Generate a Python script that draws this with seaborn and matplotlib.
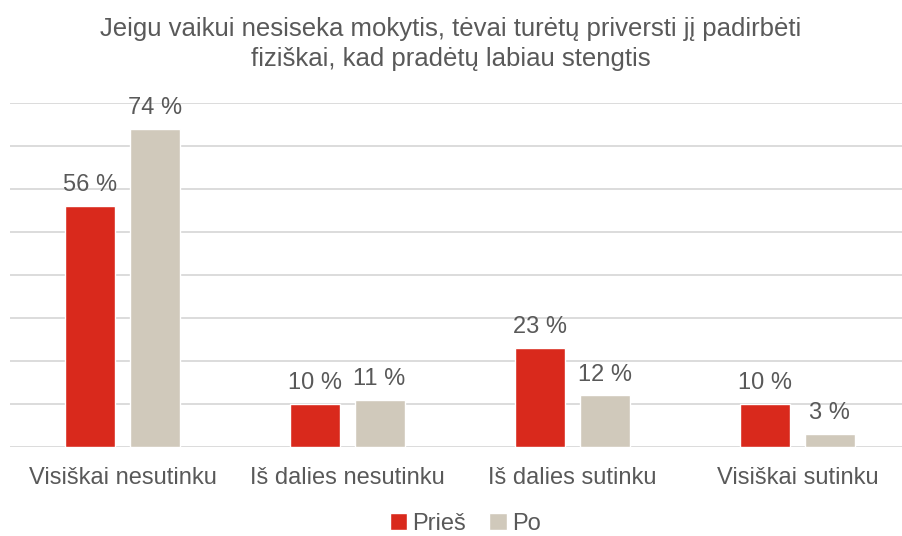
import pandas as pd
import seaborn as sns
import matplotlib.pyplot as plt

# data
categories = ["Visiškai nesutinku", "Iš dalies nesutinku", "Iš dalies sutinku", "Visiškai sutinku"]
pries = [56, 10, 23, 10]
po = [74, 11, 12, 3]
series_names = ["Prieš", "Po"]
title = "Jeigu vaikui nesiseka mokytis, tėvai turėtų priversti jį padirbėti\nfiziškai, kad pradėtų labiau stengtis"

df = pd.DataFrame({
    "Atsakymas": categories * 2,
    "Reikšmė": pries + po,
    "Laikas": [series_names[0]] * len(categories) + [series_names[1]] * len(categories),
})

sns.set_style("white")
plt.rcParams["font.family"] = ["Liberation Sans", "DejaVu Sans"]
text_color = "#595959"

fig = plt.figure(figsize=(9.02, 5.36), dpi=100)
ax = fig.add_axes([10 / 902, 89 / 536, 900 / 902, 344 / 536])

sns.barplot(data=df, x="Atsakymas", y="Reikšmė", hue="Laikas",
            palette=["#D9291C", "#D0C9BB"], width=0.57, gap=0.22,
            saturation=1, ax=ax, legend=True)

ax.set_ylim(0, 80)
ax.set_xlim(-0.5, 3.5)
ax.set_yticks(range(0, 81, 10))
ax.yaxis.grid(True, color="#D9D9D9", linewidth=1.3)
ax.set_axisbelow(True)
ax.tick_params(axis="y", left=False, labelleft=False)
ax.tick_params(axis="x", bottom=False, labelsize=17, colors=text_color, pad=11)
ax.set_xlabel("")
ax.set_ylabel("")
for s in ax.spines.values():
    s.set_visible(False)

for cont in ax.containers:
    ax.bar_label(cont, labels=[f"{v:.0f} %" for v in cont.datavalues],
                 padding=7, fontsize=17, color=text_color)

fig.text(0.5, 0.968, title, ha="center", va="top", fontsize=18.5,
         color=text_color, linespacing=1.3)

ax.legend(loc="center", bbox_to_anchor=(465 / 902, 1 - 524 / 536),
          bbox_transform=fig.transFigure, ncol=2, frameon=False,
          fontsize=17, labelcolor=text_color, handlelength=0.75, handleheight=0.75,
          handletextpad=0.2, columnspacing=1.0)

fig.savefig("out.png", dpi=100)
